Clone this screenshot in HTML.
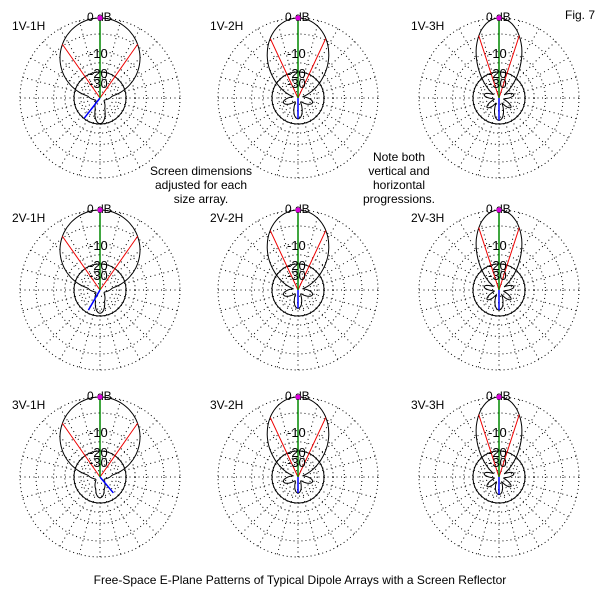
<!DOCTYPE html>
<html><head><meta charset="utf-8"><style>
html,body{margin:0;padding:0;background:#fff;}
svg{display:block;font-family:"Liberation Sans",Arial,sans-serif;}
</style></head><body>
<svg id="s" width="600" height="600" viewBox="0 0 600 600" xmlns="http://www.w3.org/2000/svg">
<rect width="600" height="600" fill="#fff"/>
<text x="565" y="19" font-size="12">Fig. 7</text>
<text x="201" y="175" font-size="12" text-anchor="middle">Screen dimensions</text>
<text x="201" y="189" font-size="12" text-anchor="middle">adjusted for each</text>
<text x="201" y="203" font-size="12" text-anchor="middle">size array.</text>
<text x="399" y="161" font-size="12" text-anchor="middle">Note both</text>
<text x="399" y="175" font-size="12" text-anchor="middle">vertical and</text>
<text x="399" y="189" font-size="12" text-anchor="middle">horizontal</text>
<text x="399" y="203" font-size="12" text-anchor="middle">progressions.</text>
<text x="300" y="584" font-size="12" text-anchor="middle">Free-Space E-Plane Patterns of Typical Dipole Arrays with a Screen Reflector</text>
<g id="plots"></g>
</svg>
<script>
var g=document.getElementById('plots');
var NS='http://www.w3.org/2000/svg';
function el(n,a,t){var e=document.createElementNS(NS,n);for(var k in a)e.setAttribute(k,a[k]);if(t)e.textContent=t;g.appendChild(e);return e;}
var cx=[100,298,499], cy=[98,290,477];
var fr=[1,.8,.58,.44,.33,.24,.16,.08];
var bw=[35,25,18];
var blue=[[200,180,180],[180,180,180],[135,180,180]];
for(var v=0;v<3;v++)for(var h=0;h<3;h++){
 var X=cx[h],Y=cy[v],R=80;
 fr.forEach(function(f){el('circle',{cx:X,cy:Y,r:R*f,fill:'none',stroke:'#000','stroke-width':1,'stroke-dasharray':'1 3'});});
 for(var a=0;a<360;a+=15){var t=a*Math.PI/180;
  el('line',{x1:X+R*.2*Math.sin(t),y1:Y-R*.2*Math.cos(t),x2:X+R*Math.sin(t),y2:Y-R*Math.cos(t),stroke:'#000','stroke-width':1,'stroke-dasharray':'1 3.5'});}
 el('circle',{cx:X,cy:Y,r:26,fill:'none',stroke:'#000','stroke-width':1});
 var p=[1,2,4][h];
 var pts=[];
 var bl=[0.32,0.26,0.28][h]-0.03*v;
 for(var a=-180;a<=180;a+=2){var t=a*Math.PI/180,r;
  var c=Math.cos(t);
  var main=c>0?R*Math.pow(c,p):0;
  var th=Math.abs(a);
  var side=R*(0.06+0.13*Math.pow(Math.abs(Math.sin(th*Math.PI/180*(h+1.5))),2));
  var back=th>140?R*bl*Math.pow(Math.cos((180-th)*Math.PI/180*2),2):0;
  r=Math.max(main,side,back);
  pts.push((X+r*Math.sin(t)).toFixed(1)+','+(Y-r*Math.cos(t)).toFixed(1));}
 el('polygon',{points:pts.join(' '),fill:'none',stroke:'#000','stroke-width':1});
 var b=bw[h]*Math.PI/180,rr=R*0.82;
 el('line',{x1:X,y1:Y,x2:X-rr*Math.sin(b),y2:Y-rr*Math.cos(b),stroke:'#e00','stroke-width':1});
 el('line',{x1:X,y1:Y,x2:X+rr*Math.sin(b),y2:Y-rr*Math.cos(b),stroke:'#e00','stroke-width':1});
 el('line',{x1:X,y1:Y,x2:X,y2:Y-R,stroke:'#080','stroke-width':1.5});
 var ba=blue[v][h]*Math.PI/180;
 if(v==0&&h==0)ba=(180+38)*Math.PI/180;
 if(v==2&&h==0)ba=(180-40)*Math.PI/180;
 if(v==1&&h==0)ba=(180+30)*Math.PI/180;
 var bl2=R*bl;
 el('line',{x1:X,y1:Y,x2:X+bl2*Math.sin(ba),y2:Y-bl2*Math.cos(ba),stroke:'#00f','stroke-width':1.5});
 el('text',{x:X-13,y:Y-77,'font-size':12},'0 dB');
 el('circle',{cx:X,cy:Y-80,r:2.5,fill:'#d0d'});
 el('text',{x:X-11,y:Y-40,'font-size':13},'-10');
 el('text',{x:X-11,y:Y-20,'font-size':13},'-20');
 el('text',{x:X-11,y:Y-10,'font-size':13},'-30');
 el('text',{x:X-88,y:Y-68,'font-size':12},(v+1)+'V-'+(h+1)+'H');
}
</script>
</body></html>
